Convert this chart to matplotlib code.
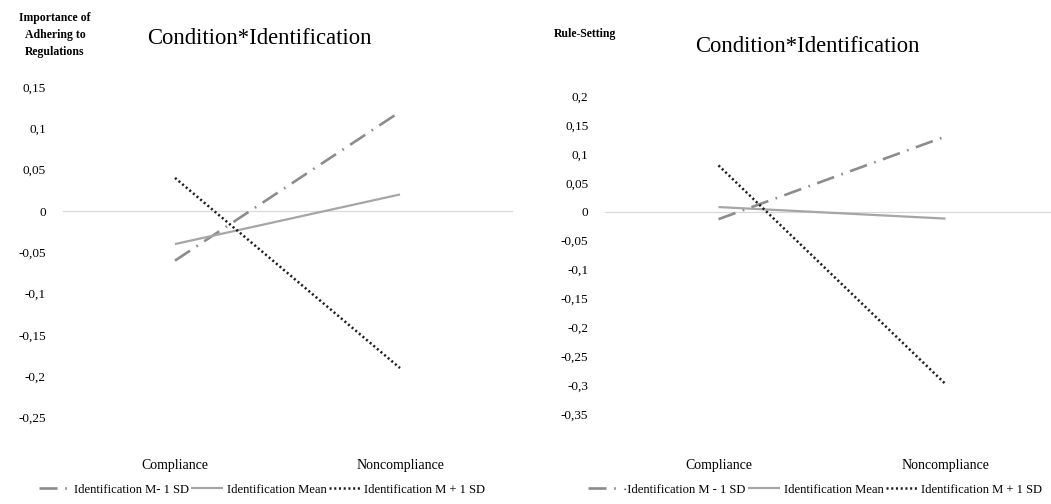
import matplotlib
matplotlib.use("Agg")
import matplotlib.pyplot as plt
from matplotlib.transforms import blended_transform_factory

plt.rcParams['font.family'] = ['Liberation Serif', 'DejaVu Serif']
plt.rcParams['lines.scale_dashes'] = False

conditions = ["Compliance", "Noncompliance"]
series_names_left = ["Identification M- 1 SD", "Identification Mean", "Identification M + 1 SD"]
series_names_right = ["\u00b7Identification M - 1 SD", "Identification Mean", "Identification M + 1 SD"]

# left: importance of adhering to regulations
adhering_low = [-0.06, 0.12]
adhering_mean = [-0.04, 0.02]
adhering_high = [0.04, -0.19]
adhering_ticks = [0.15, 0.1, 0.05, 0, -0.05, -0.1, -0.15, -0.2, -0.25]

# right: rule-setting
rules_low = [-0.013, 0.13]
rules_mean = [0.008, -0.012]
rules_high = [0.08, -0.298]
rules_ticks = [0.2, 0.15, 0.1, 0.05, 0, -0.05, -0.1, -0.15, -0.2, -0.25, -0.3, -0.35]

styles = [
    dict(color='#8c8c8c', lw=1.9, ls=(0, (13, 5.5, 1.2, 5.5))),
    dict(color='#a6a6a6', lw=1.6, ls='-'),
    dict(color='#1e1e1e', lw=1.8, ls=(0, (1.5, 1.9))),
]


def comma(v):
    s = f"{v:g}"
    return s.replace('.', ',')


def panel(fig, rect, ylim, ticks, data, names, ytitle, ytitle_xy, title_xy, legend_x):
    ax = fig.add_axes(rect)
    x = list(range(len(conditions)))
    handles = []
    for vals, st in zip(data, styles):
        h, = ax.plot(x, vals, solid_capstyle='butt', dash_capstyle='butt', **st)
        handles.append(h)
    ax.axhline(0, color='#d9d9d9', lw=0.9, zorder=0)
    ax.set_xlim(-0.5, 1.5)
    ax.set_ylim(*ylim)
    ax.set_yticks(ticks)
    ax.set_yticklabels([comma(t) for t in ticks], fontsize=9.5)
    ax.tick_params(axis='y', length=0, pad=12)
    ax.set_xticks([])
    for s in ax.spines.values():
        s.set_visible(False)
    tr = blended_transform_factory(ax.transData, fig.transFigure)
    for xi, c in zip(x, conditions):
        ax.text(xi, 0.077, c, transform=tr, ha='center', va='center', fontsize=10)
    fig.text(title_xy[0], title_xy[1], "Condition*Identification", ha='center', va='center', fontsize=16.3)
    fig.text(ytitle_xy[0], ytitle_xy[1], ytitle, ha='center', va='center', fontsize=8.5,
             fontweight='bold', linespacing=1.6)
    fig.legend(handles, names, loc='center', bbox_to_anchor=(legend_x, 0.028), ncol=3,
               frameon=False, fontsize=9.1, handlelength=2.5, handletextpad=0.3,
               columnspacing=0.2, borderaxespad=0)
    return ax


fig = plt.figure(figsize=(10.51, 5.04), dpi=100)

panel(fig, [62.5 / 1051, 45 / 504, 450 / 1051, 372 / 504], (-0.3, 0.15), adhering_ticks,
      [adhering_low, adhering_mean, adhering_high], series_names_left,
      "Importance of\nAdhering to\nRegulations", (55 / 1051, 1 - 35 / 504),
      (259 / 1051, 1 - 38 / 504), 262 / 1051)

panel(fig, [605 / 1051, 61 / 504, 454 / 1051, 347 / 504], (-0.4, 0.2), rules_ticks,
      [rules_low, rules_mean, rules_high], series_names_right,
      "Rule-Setting", (585 / 1051, 1 - 34 / 504),
      (807 / 1051, 1 - 46 / 504), 815 / 1051)

fig.savefig("out.png", dpi=100)
